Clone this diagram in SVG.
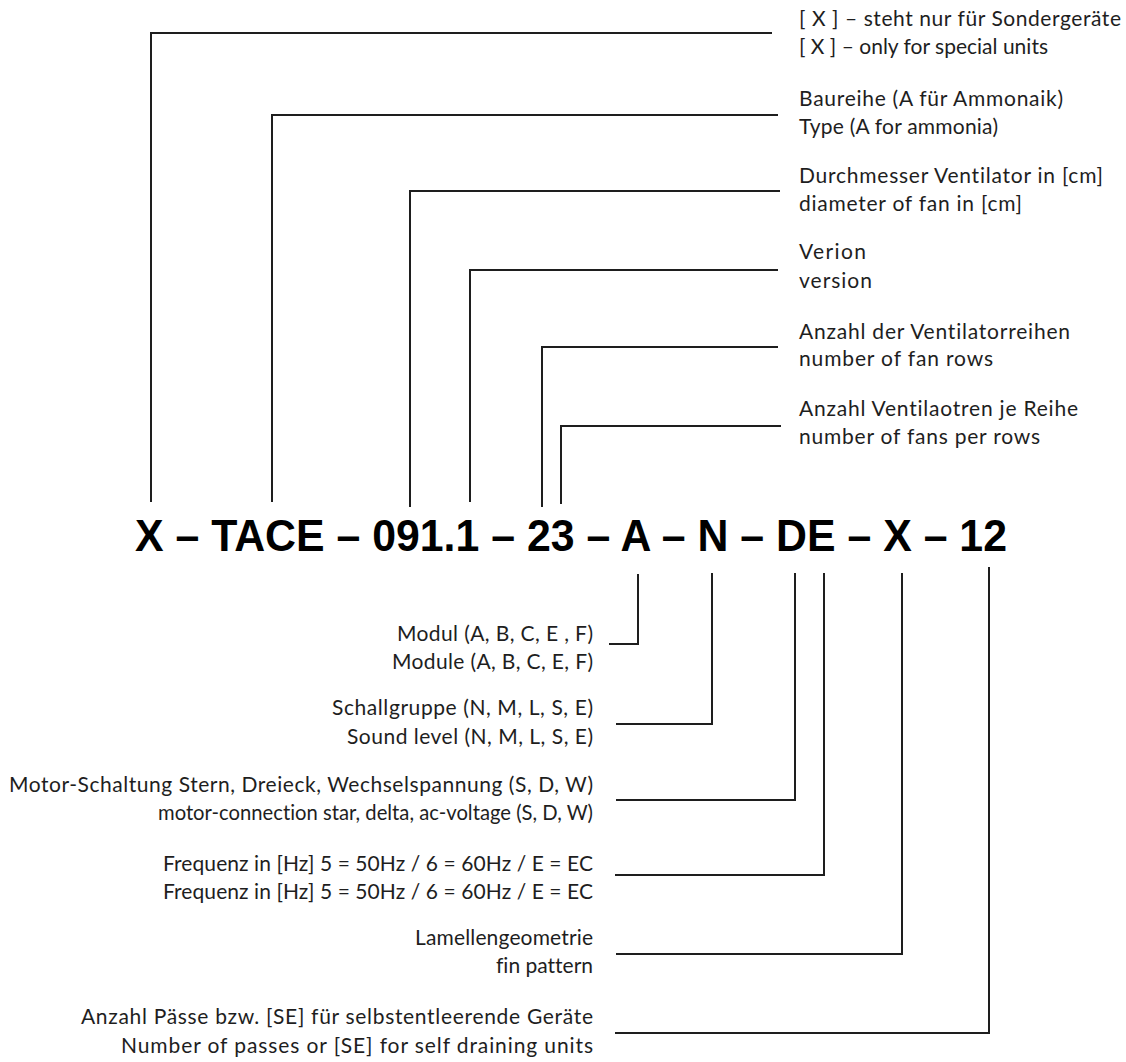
<svg xmlns="http://www.w3.org/2000/svg" width="1126" height="1062" viewBox="0 0 1126 1062">
<style>
.lbl{font-family:Lato,"Open Sans","Liberation Sans",sans-serif;font-size:21px;fill:#1e1e1e;font-variant-ligatures:none}
.r{text-anchor:end}
.code{font-family:"Liberation Sans",Arial,sans-serif;font-weight:bold;font-size:44.5px;fill:#000}
.ln{fill:none;stroke:#1e1e1e;stroke-width:2;stroke-linejoin:miter}
</style>
<rect width="1126" height="1062" fill="#fff"/>
<g id="code"><text class="code" x="135" y="551" textLength="872" lengthAdjust="spacingAndGlyphs">X – TACE – 091.1 – 23 – A – N – DE – X – 12</text></g>
<g id="connectors">
<polyline class="ln" points="151,502 151,33 772,33"/>
<polyline class="ln" points="272,502 272,115 778,115"/>
<polyline class="ln" points="410,507 410,191 780,191"/>
<polyline class="ln" points="470,502 470,270 778,270"/>
<polyline class="ln" points="542,507 542,347 778,347"/>
<polyline class="ln" points="561,504 561,426 781,426"/>
<polyline class="ln" points="638,574 638,644 609,644"/>
<polyline class="ln" points="712,573 712,724 616,724"/>
<polyline class="ln" points="795,573 795,800 616,800"/>
<polyline class="ln" points="824,573 824,875 615,875"/>
<polyline class="ln" points="902,573 902,954 616,954"/>
<polyline class="ln" points="989,567 989,1033 615,1033"/>
</g>
<g id="n-special"><text class="lbl" x="799" y="26" textLength="322">[ X ] – steht nur für Sondergeräte</text><text class="lbl" x="799" y="54" textLength="249">[ X ] – only for special units</text></g>
<g id="n-type"><text class="lbl" x="799" y="106" textLength="264">Baureihe (A für Ammonaik)</text><text class="lbl" x="799" y="134" textLength="199">Type (A for ammonia)</text></g>
<g id="n-diameter"><text class="lbl" x="799" y="183" textLength="304">Durchmesser Ventilator in [cm]</text><text class="lbl" x="799" y="211" textLength="223">diameter of fan in [cm]</text></g>
<g id="n-version"><text class="lbl" x="799" y="259" textLength="67">Verion</text><text class="lbl" x="799" y="288" textLength="73">version</text></g>
<g id="n-rows"><text class="lbl" x="799" y="339" textLength="271">Anzahl der Ventilatorreihen</text><text class="lbl" x="799" y="366" textLength="194">number of fan rows</text></g>
<g id="n-fans"><text class="lbl" x="799" y="416" textLength="279">Anzahl Ventilaotren je Reihe</text><text class="lbl" x="799" y="444" textLength="241">number of fans per rows</text></g>
<g id="n-module"><text class="lbl r" x="593" y="641" textLength="196">Modul (A, B, C, E , F)</text><text class="lbl r" x="593" y="669" textLength="201">Module (A, B, C, E, F)</text></g>
<g id="n-sound"><text class="lbl r" x="593" y="715" textLength="261">Schallgruppe (N, M, L, S, E)</text><text class="lbl r" x="593" y="744" textLength="246">Sound level (N, M, L, S, E)</text></g>
<g id="n-motor"><text class="lbl r" x="593" y="792" textLength="584">Motor-Schaltung Stern, Dreieck, Wechselspannung (S, D, W)</text><text class="lbl r" x="593" y="820" textLength="435" lengthAdjust="spacingAndGlyphs">motor-connection star, delta, ac-voltage (S, D, W)</text></g>
<g id="n-freq"><text class="lbl r" x="593" y="871" textLength="430">Frequenz in [Hz] 5 = 50Hz / 6 = 60Hz / E = EC</text><text class="lbl r" x="593" y="899" textLength="430">Frequenz in [Hz] 5 = 50Hz / 6 = 60Hz / E = EC</text></g>
<g id="n-fin"><text class="lbl r" x="593" y="945" textLength="178">Lamellengeometrie</text><text class="lbl r" x="593" y="973" textLength="97">fin pattern</text></g>
<g id="n-passes"><text class="lbl r" x="593" y="1024" textLength="512">Anzahl Pässe bzw. [SE] für selbstentleerende Geräte</text><text class="lbl r" x="593" y="1053" textLength="472">Number of passes or [SE] for self draining units</text></g>
</svg>
